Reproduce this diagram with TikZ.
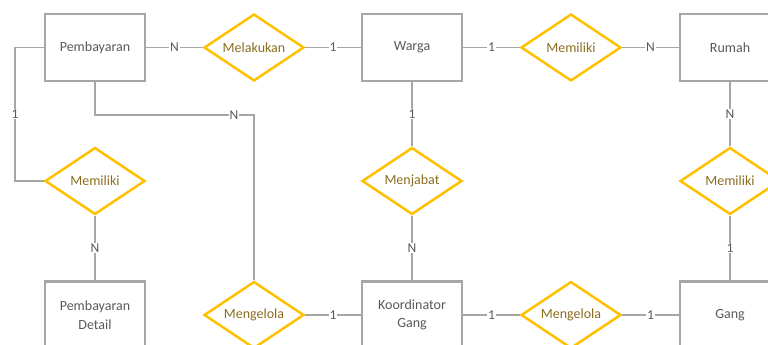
\documentclass[tikz,border=0pt]{standalone}
\usepackage{fontspec}
\setmainfont{Carlito}
\usetikzlibrary{shapes.geometric}
\definecolor{boxgray}{HTML}{A6A6A6}
\definecolor{txtgray}{HTML}{595959}
\definecolor{gold}{HTML}{FFC000}
\definecolor{goldtxt}{HTML}{8C6D1F}
\tikzset{
  entity/.style={draw=boxgray, line width=2.8pt, minimum width=100pt, minimum height=67pt, inner sep=0pt, text=txtgray, align=center, font=\fontsize{14}{18.5}\selectfont},
  rel/.style={draw=gold, line width=2.5pt, diamond, minimum width=100pt, minimum height=67pt, aspect=1.5, inner sep=0pt, text=goldtxt, font=\fontsize{14}{16}\selectfont},
  conn/.style={draw=boxgray, line width=1.2pt},
  card/.style={fill=white, text=txtgray, inner sep=0.8pt, font=\fontsize{13.5}{15}\selectfont}
}
\begin{document}
\begin{tikzpicture}[x=1pt,y=-1pt]
\useasboundingbox (0,0) rectangle (768,345);
\clip (0,0) rectangle (768,345);
% entities
\node[entity] (pemb) at (95,47.5) {Pembayaran};
\node[entity] (warga) at (412,47.5) {Warga};
\node[entity] (rumah) at (730,47.5) {Rumah};
\node[entity] (pdet) at (95,315) {Pembayaran\\Detail};
\node[entity] (koord) at (412,315) {Koordinator\\Gang};
\node[entity] (gang) at (730,315) {Gang};
% relationships
\node[rel] (melakukan) at (254,47.5) {Melakukan};
\node[rel] (memiliki1) at (571,47.5) {Memiliki};
\node[rel] (memiliki2) at (95,181) {Memiliki};
\node[rel] (menjabat) at (412,181) {Menjabat};
\node[rel] (memiliki3) at (730,181) {Memiliki};
\node[rel] (mengelola1) at (254,315) {Mengelola};
\node[rel] (mengelola2) at (571,315) {Mengelola};
% coordinates
\coordinate (c1) at (15,47.5);
\coordinate (c2) at (15,181);
\coordinate (c3) at (95,115);
\coordinate (c4) at (254,115);
% connectors
\draw[conn] (pemb.east) -- node[card]{N} (melakukan.west);
\draw[conn] (melakukan.east) -- node[card]{1} (warga.west);
\draw[conn] (warga.east) -- node[card]{1} (memiliki1.west);
\draw[conn] (memiliki1.east) -- node[card]{N} (rumah.west);
\draw[conn] (pemb.west) -- (c1) -- node[card]{1} (c2) -- (memiliki2.west);
\draw[conn] (pemb.south) -- (c3) -- (c4) -- (mengelola1.north);
\node[card] (lblN) at (234,115) {N};
\draw[conn] (memiliki2.south) -- node[card]{N} (pdet.north);
\draw[conn] (warga.south) -- node[card]{1} (menjabat.north);
\draw[conn] (menjabat.south) -- node[card]{N} (koord.north);
\draw[conn] (rumah.south) -- node[card]{N} (memiliki3.north);
\draw[conn] (memiliki3.south) -- node[card]{1} (gang.north);
\draw[conn] (mengelola1.east) -- node[card]{1} (koord.west);
\draw[conn] (koord.east) -- node[card]{1} (mengelola2.west);
\draw[conn] (mengelola2.east) -- node[card]{1} (gang.west);
\end{tikzpicture}
\end{document}
